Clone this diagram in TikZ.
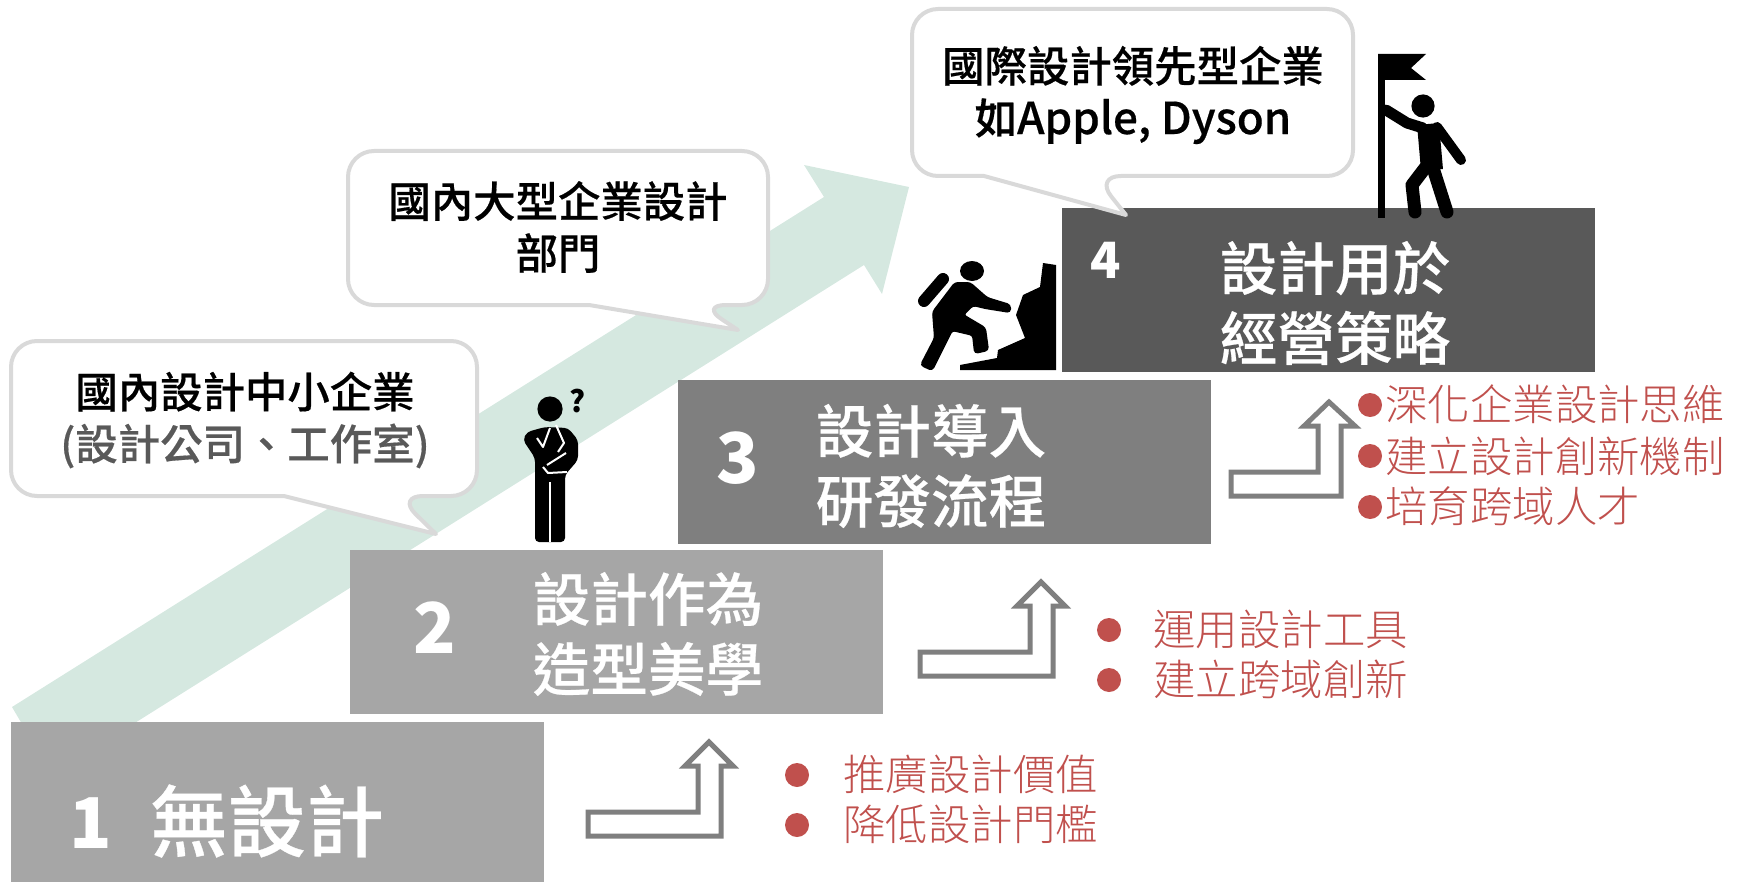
\documentclass[tikz,border=0pt]{standalone}
\usepackage{fontspec}
\setmainfont{Noto Sans CJK TC}
\newfontfamily\cjklight{Noto Sans CJK TC Light}
\newfontfamily\cjkmedium[FakeBold=0.4]{Noto Sans CJK TC Medium}
\definecolor{stepa}{HTML}{A6A6A6}
\definecolor{stepb}{HTML}{7F7F7F}
\definecolor{stepc}{HTML}{595959}
\definecolor{bandgreen}{HTML}{D5E8E0}
\definecolor{bubbleline}{HTML}{D9D9D9}
\definecolor{listred}{HTML}{C0504D}
\tikzset{
  stepbox/.style={inner sep=0pt,text=white,font=\cjkmedium\fontsize{28.8}{35}\selectfont,align=center},
  stepnum/.style={inner sep=0pt,text=white,font=\bfseries\fontsize{35}{35}\selectfont},
  bubble/.style={draw=bubbleline,fill=white,line width=2pt,line join=round},
  bubbletext/.style={inner sep=0pt,font=\cjkmedium\fontsize{21.2}{26}\selectfont,align=center},
  listtext/.style={inner sep=0pt,anchor=west,text=listred,font=\cjklight\fontsize{21.2}{26}\selectfont},
  listdot/.style={circle,fill=listred,minimum size=12pt,inner sep=0pt},
  bentarrow/.style={draw=stepb,fill=white,line width=2.5pt,line join=miter},
  limb/.style={draw=black,line cap=round,line join=round},
  gap/.style={draw=white,line width=1pt,line join=round}
}
\begin{document}
\begin{tikzpicture}[x=0.5pt,y=-0.5pt]
\useasboundingbox (0,0) rectangle (1743,882);
\fill[bandgreen] (12,707) -- (824,197) -- (804,165) -- (909,187) -- (882,294) -- (864,265) -- (52,775) -- cycle;

\fill[stepa] (11,722) rectangle (544,882);
\fill[stepa] (350,550) rectangle (883,714);
\fill[stepb] (678,380) rectangle (1211,544);
\fill[stepc] (1062,208) rectangle (1595,372);

\node[stepnum] (numa) at (91,823) {1};
\node[stepbox,font=\cjkmedium\fontsize{39}{39}\selectfont] (stepa) at (267,821) {無設計};
\node[stepnum] (numb) at (435,628) {2};
\node[stepbox] (stepb) at (648,634) {設計作為\\造型美學};
\node[stepnum] (numc) at (738,458) {3};
\node[stepbox] (stepc) at (931,466) {設計導入\\研發流程};
\node[stepnum,font=\bfseries\fontsize{25}{25}\selectfont] (numd) at (1106,260) {4};
\node[stepbox] (stepd) at (1335,303) {設計用於\\經營策略};

\draw[bubble,rounded corners=13pt] (240,341) -- (477,341) -- (477,496) -- (397,496) [sharp corners] -- (436,534) -- (284,496) [rounded corners=13pt] -- (11,496) -- (11,341) -- cycle;
\draw[bubble,rounded corners=13pt] (560,151) -- (768,151) -- (768,305) -- (700,305) [sharp corners] -- (738,330) -- (589,305) [rounded corners=13pt] -- (348,305) -- (348,151) -- cycle;
\draw[bubble,rounded corners=13pt] (1140,9) -- (1353,9) -- (1353,176) -- (1095,176) [sharp corners] -- (1126,215) -- (984,176) [rounded corners=13pt] -- (912,176) -- (912,9) -- cycle;

\node[bubbletext] (smallfirm) at (245,420) {國內設計中小企業\\\textcolor{stepc}{(設計公司、工作室)}};
\node[bubbletext] (bigfirm) at (558,227) {國內大型企業設計\\部門};
\node[bubbletext] (leadfirm) at (1133,95) {國際設計領先型企業\\如{\fontsize{22}{26}\selectfont Apple, Dyson}};

\foreach \dx/\dy in {0/0,332/-160}
\draw[bentarrow,shift={(\dx,\dy)}] (588,812) -- (698,812) -- (698,766) -- (685,766) -- (709,742) -- (733,766) -- (721,766) -- (721,836) -- (588,836) -- cycle;
\draw[bentarrow] (1231,472) -- (1318,472) -- (1318,426) -- (1304,426) -- (1329,402) -- (1355,426) -- (1341,426) -- (1341,496) -- (1231,496) -- cycle;

\node[listdot] (dota) at (797,775) {};
\node[listtext] (lista) at (843,774) {推廣設計價值};
\node[listdot] (dotb) at (797,825) {};
\node[listtext] (listb) at (843,824) {降低設計門檻};
\node[listdot] (dotc) at (1109,630) {};
\node[listtext] (listc) at (1153,629) {運用設計工具};
\node[listdot] (dotd) at (1109,680) {};
\node[listtext] (listd) at (1153,679) {建立跨域創新};
\node[listdot] (dote) at (1370,405) {};
\node[listtext] (liste) at (1385,404) {深化企業設計思維};
\node[listdot] (dotf) at (1370,456) {};
\node[listtext] (listf) at (1385,456) {建立設計創新機制};
\node[listdot] (dotg) at (1370,507) {};
\node[listtext] (listg) at (1385,506) {培育跨域人才};

% thinker
\fill (550,409) circle (6.3pt);
\fill[rounded corners=2pt] (545,427) -- (527,432) -- (523,440) -- (535,458) -- (535,542) -- (565,542) -- (565,475) -- (578,460) -- (578,440) -- (568,428) -- cycle;
\draw[gap] (550,482) -- (550,542);
\draw[gap] (537,438) -- (543,447) -- (550,428);
\draw[gap] (556,425) -- (564,443) -- (558,452);
\draw[gap] (566,453) -- (547,465);
\draw[gap] (543,467) -- (548,473) -- (567,472);
\node[inner sep=0pt,font=\bfseries\fontsize{15}{15}\selectfont] (query) at (578,401) {?};

% climber
\fill (972,271) ellipse (6pt and 5pt);
\draw[limb,line width=6pt] (924,301) -- (943,279);
\filldraw[line width=1pt,rounded corners=1.5pt] (955,283) -- (970,283) -- (987,298) -- (1010,305) -- (1010,312) -- (985,308) -- (973,305) -- (963,315) -- (985,328) -- (988,350) -- (975,353) -- (973,335) -- (952,330) -- (932,370) -- (921,365) -- (935,338) -- (933,312) -- cycle;
\fill (1056,265) -- (1043,263) -- (1040,287) -- (1023,295) -- (1016,315) -- (1025,338) -- (998,350) -- (997,358) -- (960,365) -- (960,370) -- (1056,370) -- cycle;

% flag bearer
\fill (1378,54) -- (1426,54) -- (1411,68) -- (1426,80) -- (1378,80) -- cycle;
\fill (1378,54) rectangle (1385,218);
\fill (1423,106) circle (5.8pt);
\draw[limb,line width=5.5pt] (1386,110) -- (1407,123) -- (1423,128);
\draw[limb,line width=11pt,line cap=butt] (1428,124) -- (1432,170);
\draw[limb,line width=5pt] (1437,127) -- (1461,160);
\draw[limb,line width=6.5pt] (1425,168) -- (1412,185) -- (1415,212);
\draw[limb,line width=6.5pt] (1433,168) -- (1447,212);
\end{tikzpicture}
\end{document}
